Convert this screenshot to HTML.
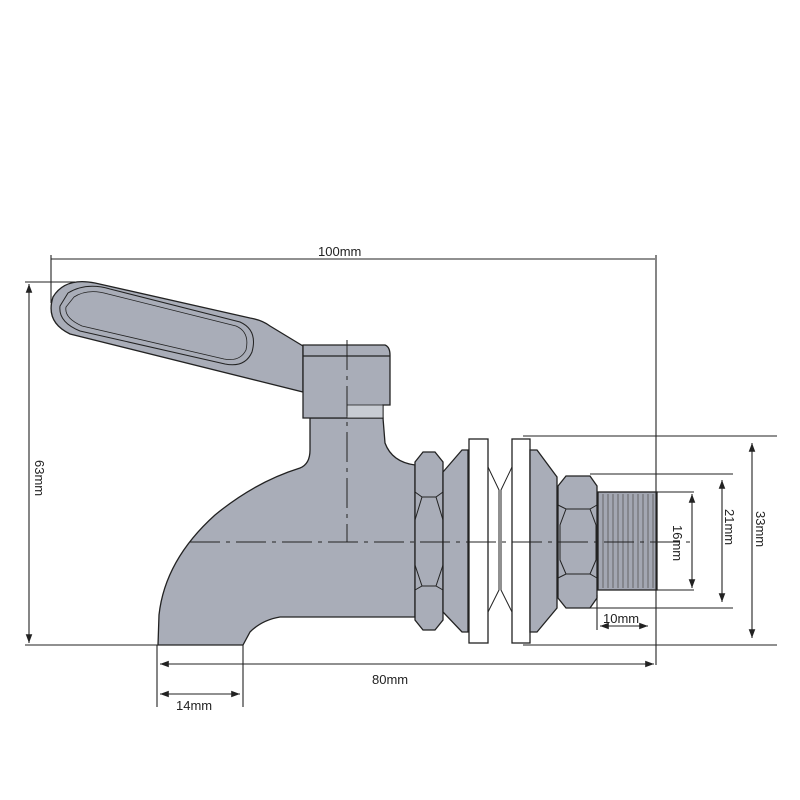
<!DOCTYPE html>
<html><head><meta charset="utf-8"><style>
html,body{margin:0;padding:0;background:#fff;}
svg{display:block;}
text{font-family:"Liberation Sans",sans-serif;font-size:13px;fill:#222;}
</style></head><body>
<svg width="800" height="800" viewBox="0 0 800 800" xmlns="http://www.w3.org/2000/svg">
<defs>
<marker id="a" markerWidth="8" markerHeight="6" refX="8" refY="3" orient="auto-start-reverse"><path d="M0,0 L8,3 L0,6 z" fill="#222"/></marker>
</defs>
<g stroke="#222" stroke-width="1.3" fill="#a9adb8">
<!-- body -->
<path d="M310,418 L383,418 L385,443 Q392,462 415,465 L415,617 L280,617 Q262,620 250,632 L243,645 L158,645 L159,615 Q165,560 215,515 Q255,482 300,468 Q310,464 310,450 Z"/>
<!-- handle -->
<path d="M303,346 L270,326 Q262,320 250,318 L95,283 Q65,277 53,297 Q45,322 70,334 L303,392 Z"/>
<path d="M68,293 Q86,282 110,289 L240,322 Q258,330 252,352 Q245,368 225,364 L80,331 Q58,322 60,306 Z" stroke-width="1"/>
<path d="M74,297 Q88,288 108,294 L236,326 Q250,332 246,350 Q240,362 224,359 L82,326 Q64,318 66,307 Z" stroke-width="0.8"/>
<!-- cap -->
<path d="M303,345 L385,345 Q390,347 390,355 L390,405 L383,405 L383,418 L303,418 Z"/>
<line x1="303" y1="356" x2="390" y2="356"/>
<rect x="347" y="405" width="36" height="13" fill="#c8ccd3" stroke-width="0.8"/>
<!-- nut 1 -->
<path d="M415,462 L423,452 L435,452 L443,462 L443,620 L435,630 L423,630 L415,620 Z"/>
<path d="M415,492 L422,497 L436,497 L443,492 M415,590 L422,586 L436,586 L443,590 M422,497 L415,520 L415,565 L422,586 M436,497 L443,520 L443,565 L436,586" fill="none" stroke-width="1"/>
<!-- cone 1 -->
<path d="M443,472 L462,450 L468,450 L468,632 L462,632 L443,612 Z"/>
<!-- washers -->
<rect x="469" y="439" width="19" height="204" fill="#fff"/>
<rect x="512" y="439" width="18" height="204" fill="#fff"/>
<path d="M488,467 L499,490 L499,590 L488,612 M512,467 L501,490 L501,590 L512,612" fill="none" stroke-width="1"/>
<!-- cone 2 -->
<path d="M530,450 L537,450 L557,477 L557,608 L537,632 L530,632 Z"/>
<!-- nut 2 -->
<path d="M558,486 L566,476 L590,476 L597,486 L597,598 L590,608 L566,608 L558,598 Z"/>
<path d="M558,505 L566,509 L590,509 L597,505 M558,578 L566,574 L590,574 L597,578 M566,509 L560,525 L560,560 L566,574 M590,509 L596,525 L596,560 L590,574" fill="none" stroke-width="1"/>
<!-- thread -->
<rect x="598" y="492" width="59" height="98" fill="#a3a7b2"/>
</g>
<g stroke="#555" stroke-width="0.8">
<line x1="603" y1="494" x2="603" y2="588"/><line x1="608" y1="494" x2="608" y2="588"/><line x1="613" y1="494" x2="613" y2="588"/><line x1="618" y1="494" x2="618" y2="588"/><line x1="623" y1="494" x2="623" y2="588"/><line x1="628" y1="494" x2="628" y2="588"/><line x1="633" y1="494" x2="633" y2="588"/><line x1="638" y1="494" x2="638" y2="588"/><line x1="643" y1="494" x2="643" y2="588"/><line x1="648" y1="494" x2="648" y2="588"/><line x1="653" y1="494" x2="653" y2="588"/>
</g>
<!-- centerlines -->
<g stroke="#222" stroke-width="1" fill="none">
<line x1="190" y1="542" x2="690" y2="542" stroke-dasharray="30,6,4,6"/>
<line x1="347" y1="340" x2="347" y2="542" stroke-dasharray="30,6,4,6"/>
</g>
<!-- dimensions -->
<g stroke="#222" stroke-width="1.1" fill="none">
<line x1="51" y1="259" x2="655" y2="259"/>
<line x1="51" y1="255" x2="51" y2="303"/>
<line x1="656" y1="255" x2="656" y2="665"/>
<line x1="25" y1="282" x2="75" y2="282"/>
<line x1="25" y1="645" x2="160" y2="645"/>
<line x1="29" y1="284" x2="29" y2="643" marker-start="url(#a)" marker-end="url(#a)"/>
<line x1="160" y1="664" x2="654" y2="664" marker-start="url(#a)" marker-end="url(#a)"/>
<line x1="157" y1="645" x2="157" y2="707"/>
<line x1="243" y1="645" x2="243" y2="707"/>
<line x1="160" y1="694" x2="240" y2="694" marker-start="url(#a)" marker-end="url(#a)"/>
<line x1="523" y1="436" x2="777" y2="436"/>
<line x1="523" y1="645" x2="777" y2="645"/>
<line x1="752" y1="443" x2="752" y2="638" marker-start="url(#a)" marker-end="url(#a)"/>
<line x1="590" y1="474" x2="733" y2="474"/>
<line x1="590" y1="608" x2="733" y2="608"/>
<line x1="722" y1="480" x2="722" y2="602" marker-start="url(#a)" marker-end="url(#a)"/>
<line x1="657" y1="492" x2="694" y2="492"/>
<line x1="657" y1="590" x2="694" y2="590"/>
<line x1="692" y1="494" x2="692" y2="588" marker-start="url(#a)" marker-end="url(#a)"/>
<line x1="597" y1="595" x2="597" y2="630"/>
<line x1="600" y1="626" x2="648" y2="626" marker-start="url(#a)" marker-end="url(#a)"/>
</g>
<text x="318" y="256">100mm</text>
<text x="372" y="684">80mm</text>
<text x="176" y="710">14mm</text>
<text x="603" y="623">10mm</text>
<text transform="translate(35,460) rotate(90)">63mm</text>
<text transform="translate(756,511) rotate(90)">33mm</text>
<text transform="translate(725,509) rotate(90)">21mm</text>
<text transform="translate(673,525) rotate(90)">16mm</text>
</svg>
</body></html>
